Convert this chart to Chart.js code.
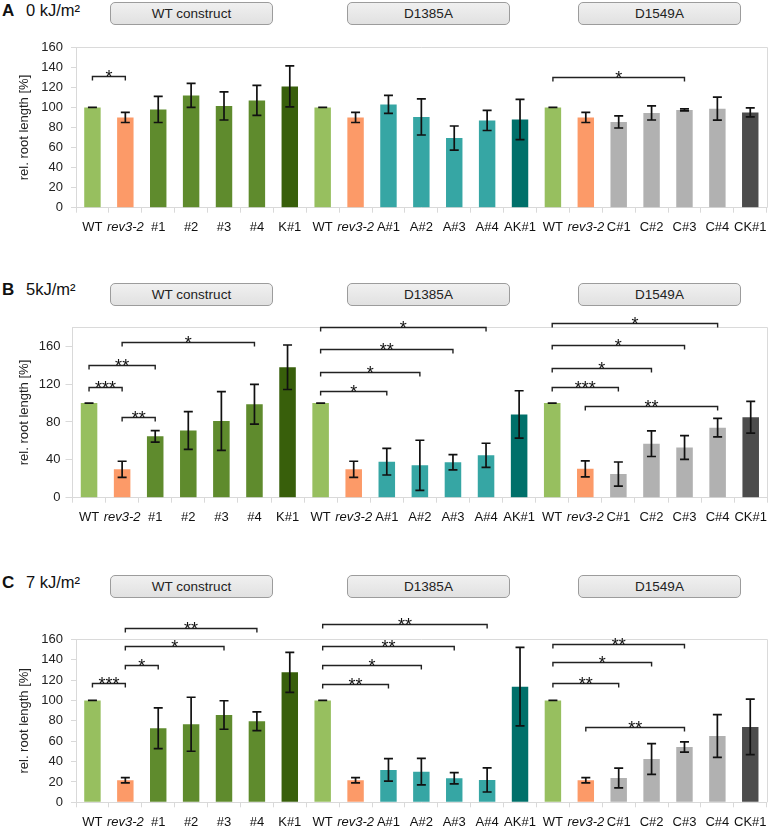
<!DOCTYPE html>
<html><head><meta charset="utf-8">
<script src="https://cdn.jsdelivr.net/npm/chart.js@4.4.1/dist/chart.umd.min.js"></script>
<style>
body{margin:0;background:#fff;width:774px;height:829px;position:relative;overflow:hidden;font-family:"Liberation Sans",Arial,sans-serif;}
.lab{position:absolute;font-size:16.5px;line-height:17px;color:#111;white-space:nowrap}
.lab b{position:absolute;left:0;top:0;font-size:17px}
.lab span{position:absolute;top:0;left:24px}
.box{position:absolute;height:21px;border:1px solid #9c9c9c;border-radius:5px;background:linear-gradient(#f0f0f0,#e1e1e1);font-size:13.5px;line-height:21px;text-align:center;color:#222}
canvas{position:absolute;left:0}
</style></head><body>
<div class="lab" style="left:2px;top:2px"><b>A</b><span>0 kJ/m²</span></div>
<div class="box" style="left:110px;top:2px;width:161px">WT construct</div>
<div class="box" style="left:347px;top:2px;width:161px">D1385A</div>
<div class="box" style="left:578px;top:2px;width:161px">D1549A</div>

<div class="lab" style="left:2px;top:281px"><b>B</b><span>5kJ/m²</span></div>
<div class="box" style="left:110px;top:283px;width:161px">WT construct</div>
<div class="box" style="left:347px;top:283px;width:161px">D1385A</div>
<div class="box" style="left:578px;top:283px;width:161px">D1549A</div>

<div class="lab" style="left:2px;top:574px"><b>C</b><span>7 kJ/m²</span></div>
<div class="box" style="left:110px;top:575px;width:161px">WT construct</div>
<div class="box" style="left:347px;top:575px;width:161px">D1385A</div>
<div class="box" style="left:578px;top:575px;width:161px">D1549A</div>

<canvas id="cA" width="774" height="222" style="top:28px"></canvas>
<canvas id="cB" width="774" height="232" style="top:308px"></canvas>
<canvas id="cC" width="774" height="229" style="top:600px"></canvas>
<script>
const categories = ['WT','rev3-2','#1','#2','#3','#4','K#1','WT','rev3-2','A#1','A#2','A#3','A#4','AK#1','WT','rev3-2','C#1','C#2','C#3','C#4','CK#1'];

const valuesA = [100,90,98,112,101.5,107,121,100,90,103,90.5,69.5,87,88,100,90,85.5,94.5,97.5,98.8,95];
const errorsA = [0,5,13,12,14,15,20.5,0,5,9,18,12,10,20,0,5,6,7,1,11.5,4.5];
const valuesB = [100,30,64.8,71,81,98.7,137.8,100,30,38,34.2,37.4,44.8,88,100,30.5,25,57,53,74,85];
const errorsB = [0,8.5,6,20,31,21,23.5,0,8.5,14,26.5,8,12.7,25,0,8.5,12.7,13.5,12.5,9.7,16.7];
const valuesC = [100,21.6,72.6,76.6,85.7,79.5,127.6,100,21.6,31.8,30.1,23.6,21.9,113.5,100,21.6,23.9,42.5,54.3,65.1,74];
const errorsC = [0,2.6,20,26.5,14,9.2,19.6,0,2.6,11,13,5.6,11.8,38.5,0,2.6,9.7,15,5.1,21,27.3];

const ticksA = [0,20,40,60,80,100,120,140,160];
const ticksB = [0,40,80,120,160];
const ticksC = [0,20,40,60,80,100,120,140,160];

// significance brackets: [from category, to category, height, stars]
const bracketsA = [[0,1,131,'*'],[14,18,130,'*']];
const bracketsB = [[0,1,117,'***'],[0,2,140,'**'],[1,5,164,'*'],[1,2,85,'**'],
  [7,9,113,'*'],[7,10,133,'*'],[7,11,157,'**'],[7,12,180,'*'],
  [14,16,117,'***'],[14,17,137,'*'],[14,18,161,'*'],[14,19,185,'*'],[15,19,97,'**']];
const bracketsC = [[0,1,117,'***'],[1,2,135,'*'],[1,4,153,'*'],[1,5,171,'**'],
  [7,9,116,'**'],[7,10,135,'*'],[7,11,153,'**'],[7,12,175,'**'],
  [14,16,117,'**'],[14,17,138,'*'],[14,18,155,'**'],[15,18,74,'**']];

const FAM = '"Liberation Sans", Arial, sans-serif';
const colorFor = {'WT':'#97BF5F','rev3-2':'#FC9A68','#':'#5F8B2D','K#1':'#385F0B','A#':'#36A6A4','AK#1':'#00706A','C#':'#B1B1B1','CK#1':'#4C4C4C'};
const barColors = categories.map(c => colorFor[c] || colorFor[c.replace(/\d+$/,'')]);

function overlay(errors, brackets){
  return {
    id:'overlay',
    beforeDatasetsDraw(chart){
      const {ctx, chartArea:a} = chart;
      ctx.save(); ctx.strokeStyle='#dadada'; ctx.lineWidth=1;
      ctx.beginPath(); ctx.moveTo(a.left, Math.round(a.top)+0.5); ctx.lineTo(Math.round(a.right)+0.5, Math.round(a.top)+0.5);
      ctx.lineTo(Math.round(a.right)+0.5, a.bottom); ctx.stroke(); ctx.restore();
    },
    afterDatasetsDraw(chart){
      const {ctx} = chart; const meta = chart.getDatasetMeta(0);
      const ys = chart.scales.y, xs = chart.scales.x;
      const vals = chart.data.datasets[0].data;
      ctx.save(); ctx.strokeStyle='#111'; ctx.lineWidth=1.7;
      meta.data.forEach((bar,i)=>{
        const x = bar.x;
        const yHi = ys.getPixelForValue(vals[i]+errors[i]);
        const yLo = ys.getPixelForValue(vals[i]-errors[i]);
        ctx.beginPath();
        ctx.moveTo(x,yHi); ctx.lineTo(x,yLo);
        ctx.moveTo(x-4.5,yHi); ctx.lineTo(x+4.5,yHi);
        ctx.moveTo(x-4.5,yLo); ctx.lineTo(x+4.5,yLo);
        ctx.stroke();
      });
      ctx.strokeStyle='#222'; ctx.lineWidth=1.4; ctx.fillStyle='#111';
      ctx.font='18px '+FAM; ctx.textAlign='center'; ctx.textBaseline='alphabetic';
      brackets.forEach(([p,q,v,s])=>{
        const x1 = xs.getPixelForValue(p), x2 = xs.getPixelForValue(q);
        const y = Math.round(ys.getPixelForValue(v))+0.5;
        ctx.beginPath(); ctx.moveTo(x1,y+4); ctx.lineTo(x1,y); ctx.lineTo(x2,y); ctx.lineTo(x2,y+4); ctx.stroke();
        ctx.fillText(s,(x1+x2)/2,y+6);
      });
      ctx.restore();
    }
  };
}

function makeChart(id, values, errors, brackets, tickVals, cfg){
  new Chart(document.getElementById(id), {
    type:'bar',
    data:{labels:categories, datasets:[{data:values, backgroundColor:barColors, borderWidth:0, barPercentage:0.5, categoryPercentage:1}]},
    options:{
      responsive:false, animation:false, devicePixelRatio:1,
      layout:{padding:{top:cfg.padTop, right:cfg.padRight, left:0, bottom:0}},
      plugins:{legend:{display:false}, tooltip:{enabled:false}},
      scales:{
        x:{offset:true,
           grid:{offset:true, drawOnChartArea:false, tickLength:5, color:'#d9d9d9'},
           border:{color:'#d9d9d9'},
           ticks:{autoSkip:false, maxRotation:0, minRotation:0, padding:7, color:'#111',
             font: c => ({size:13, family:FAM, style:(c.tick && c.tick.label==='rev3-2')?'italic':'normal'})},
           afterFit: s => { s.height = cfg.xH; }},
        y:{min:0, max:cfg.max,
           afterBuildTicks: s => { s.ticks = tickVals.map(v=>({value:v})); },
           afterFit: s => { s.width = cfg.yW; },
           grid:{drawOnChartArea:false, tickLength:cfg.tl, color:'#d9d9d9'},
           border:{color:'#d9d9d9'},
           ticks:{padding:cfg.tp, color:'#222', font:{size:13, family:FAM}},
           title:{display:true, text:'rel. root length [%]', color:'#222', font:{size:13, family:FAM}, padding:{top:17,bottom:0}}}
      }
    },
    plugins:[overlay(errors, brackets)]
  });
}

makeChart('cA', valuesA, errorsA, bracketsA, ticksA, {padTop:19.3, padRight:7.3, xH:42.3, yW:76, max:160, tl:5, tp:8});
makeChart('cB', valuesB, errorsB, bracketsB, ticksB, {padTop:19.3, padRight:1.3, xH:42.3, yW:72.5, max:180, tl:7, tp:5});
makeChart('cC', valuesC, errorsC, bracketsC, ticksC, {padTop:39.3, padRight:7.3, xH:26.7, yW:76, max:160, tl:5, tp:8});
</script>
</body></html>
